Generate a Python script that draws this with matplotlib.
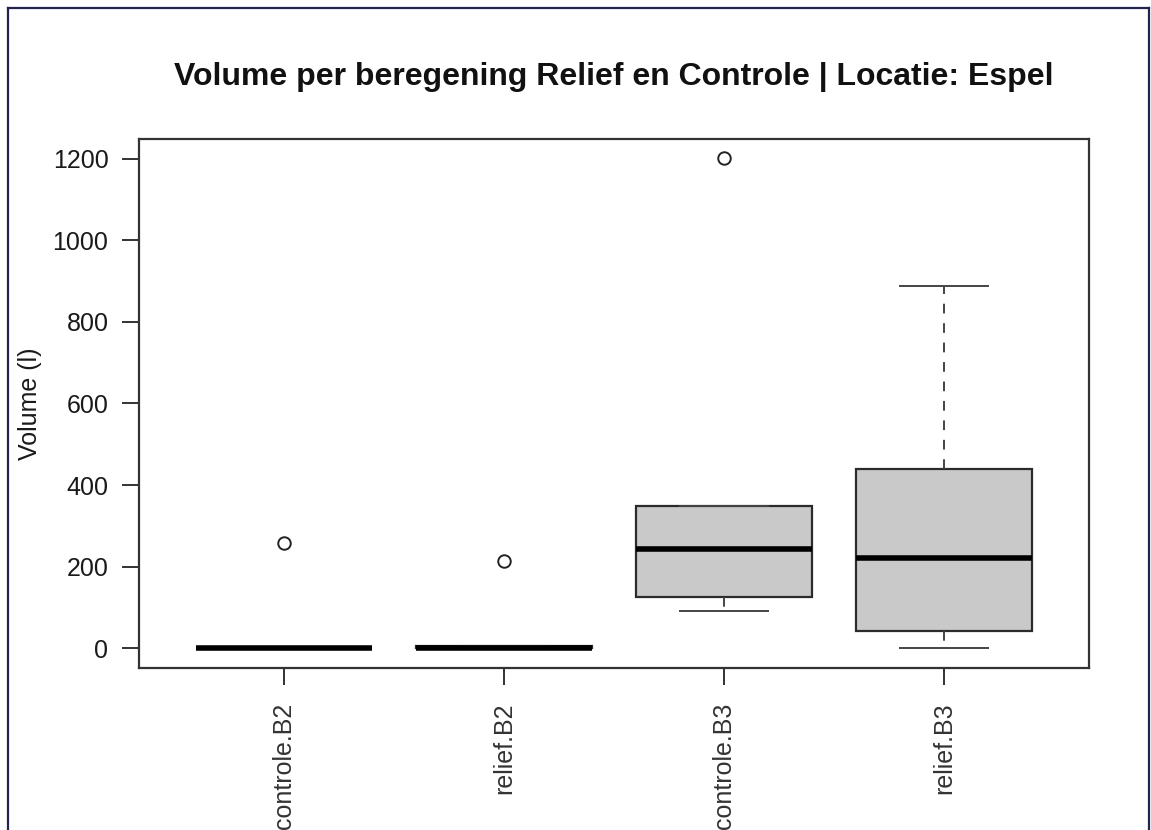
import matplotlib
matplotlib.use("Agg")
import matplotlib.pyplot as plt
from matplotlib.lines import Line2D

plt.rcParams['font.family'] = ['Liberation Sans', 'DejaVu Sans']

# summary stats per group (litres)
groups  = ["controle.B2", "relief.B2", "controle.B3", "relief.B3"]
whislo  = [0, 0, 91, 2]
q1      = [0, 0, 125, 42]
med     = [0, 1, 243, 221]
q3      = [0, 5, 348, 439]
whishi  = [0, 5, 348, 888]
fliers  = [[258], [214], [1201], []]

stats = []
for k in range(len(groups)):
    stats.append(dict(label=groups[k], whislo=whislo[k], q1=q1[k], med=med[k],
                      q3=q3[k], whishi=whishi[k], fliers=fliers[k]))

W, H = 1151, 830
fig = plt.figure(figsize=(W/100, H/100), dpi=100)
ax = fig.add_axes([139/W, (H-668)/H, 950/W, 529/H])

edge = "#2b2b2b"
ax.bxp(stats, positions=[1, 2, 3, 4], widths=0.8, patch_artist=True,
       boxprops=dict(facecolor="#c9c9c9", edgecolor=edge, linewidth=1.6),
       medianprops=dict(color="black", linewidth=4.0, solid_capstyle="butt"),
       whiskerprops=dict(color="#444444", linewidth=1.4, linestyle=(0, (5, 5))),
       capprops=dict(color="#444444", linewidth=1.4),
       flierprops=dict(marker="o", markerfacecolor="none", markeredgecolor="#222222",
                       markersize=9, markeredgewidth=1.4),
       capwidths=0.4)

ax.set_xlim(0.34, 4.66)
ax.set_ylim(-48, 1248)
ax.set_yticks([0, 200, 400, 600, 800, 1000, 1200])
ax.set_xticks([1, 2, 3, 4])
ax.set_xticklabels(groups, rotation=90, fontsize=18, color="#1a1a1a")
ax.tick_params(axis="y", labelsize=18, length=12, width=1.4, pad=10, colors="#333333",
               labelcolor="#1a1a1a")
ax.tick_params(axis="x", length=12, width=1.4, pad=13, colors="#333333")
for s in ax.spines.values():
    s.set_color("#333333")
    s.set_linewidth(1.6)

ax.set_ylabel("Volume (l)", fontsize=18, color="#1a1a1a")
ax.yaxis.set_label_coords(-(139-42)/950, 0.5)
fig.text(614/W, 1-77/H, "Volume per beregening Relief en Controle | Locatie: Espel",
         ha="center", va="center", fontsize=23, fontweight="bold", color="#111111")

# outer frame (open at the bottom)
navy = "#23234f"
fig.add_artist(Line2D([8/W, 8/W], [0, 1-8/H], color=navy, lw=1.6, transform=fig.transFigure))
fig.add_artist(Line2D([8/W, 1149/W], [1-8/H, 1-8/H], color=navy, lw=1.6, transform=fig.transFigure))
fig.add_artist(Line2D([1149/W, 1149/W], [0, 1-8/H], color=navy, lw=1.6, transform=fig.transFigure))

fig.savefig("out.png", dpi=100)
